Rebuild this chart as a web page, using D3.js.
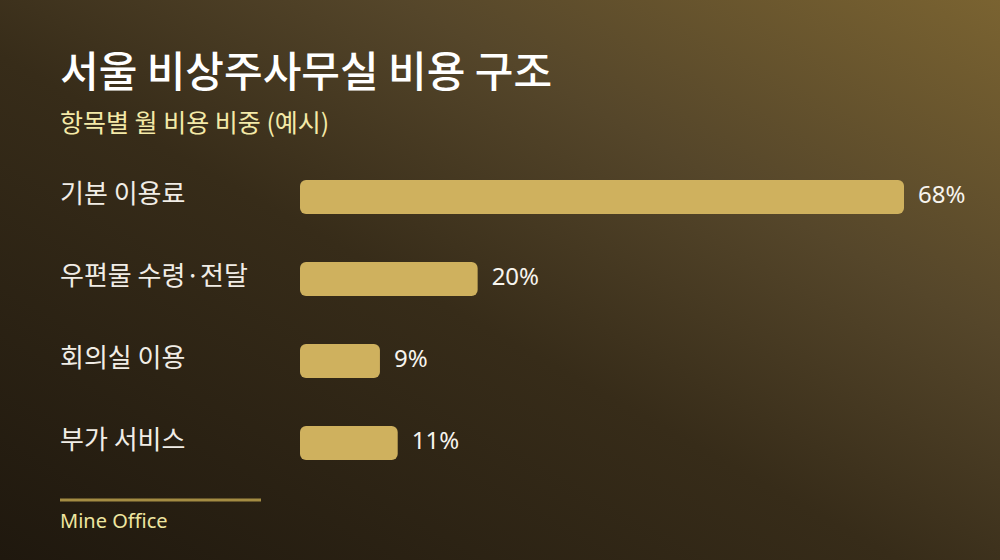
<!DOCTYPE html>
<html>

<head>
    <meta charset="utf-8" />
    <title>서울 비상주사무실 비용 구조</title>
    <script src="https://d3js.org/d3.v7.min.js"></script>
    <style>
        html, body {
            margin: 0;
            padding: 0;
            background: #2a2114;
        }
        svg text {
            font-family: "Noto Sans CJK KR", "Noto Sans", sans-serif;
        }
        svg text.latin {
            font-family: "Noto Sans", "Noto Sans CJK KR", sans-serif;
        }
    </style>
</head>

<body>
    <div id="chart"></div>
</body>

</html>
<script>
    // data
    const categories = ["기본 이용료", "우편물 수령·전달", "회의실 이용", "부가 서비스"];
    const shares = [68, 20, 9, 11];
    const valueLabels = ["68%", "20%", "9%", "11%"];

    const titleText = "서울 비상주사무실 비용 구조";
    const subtitleText = "항목별 월 비용 비중 (예시)";
    const footerText = "Mine Office";

    const width = 1000, height = 560;

    const svg = d3.select("#chart")
        .append("svg")
        .attr("width", width)
        .attr("height", height);

    // background gradient, dark bottom-left to warm gold top-right
    const defs = svg.append("defs");
    const bg = defs.append("linearGradient")
        .attr("id", "bg")
        .attr("x1", "0").attr("y1", "1")
        .attr("x2", "1").attr("y2", "0");
    bg.append("stop").attr("offset", "0").attr("stop-color", "#1f180e");
    bg.append("stop").attr("offset", "0.45").attr("stop-color", "#372c19");
    bg.append("stop").attr("offset", "0.7").attr("stop-color", "#55462a");
    bg.append("stop").attr("offset", "1").attr("stop-color", "#7a6331");

    svg.append("rect")
        .attr("width", width)
        .attr("height", height)
        .attr("fill", "url(#bg)");

    // title + subtitle
    svg.append("text")
        .attr("x", 60).attr("y", 87)
        .attr("fill", "#ffffff")
        .attr("font-size", 42)
        .attr("font-weight", 500)
        .text(titleText);

    svg.append("text")
        .attr("x", 60).attr("y", 132)
        .attr("fill", "#f4eaa8")
        .attr("font-size", 25)
        .text(subtitleText);

    // scales
    const y = d3.scaleBand()
        .domain(categories)
        .range([180, 460])
        .paddingInner(48 / 82)
        .paddingOuter(0);

    const x = d3.scaleLinear()
        .domain([0, d3.max(shares)])
        .range([300, 904]);

    const rows = categories.map((c, i) => ({ cat: c, v: shares[i], label: valueLabels[i] }));

    // category labels
    svg.append("g")
        .selectAll("text")
        .data(rows)
        .join("text")
        .attr("x", 60)
        .attr("y", d => y(d.cat) + y.bandwidth() / 2 - 3)
        .attr("dy", "0.35em")
        .attr("fill", "#f1ede6")
        .attr("font-size", 26)
        .text(d => d.cat);

    // bars
    svg.append("g")
        .selectAll("rect")
        .data(rows)
        .join("rect")
        .attr("x", x(0))
        .attr("y", d => y(d.cat))
        .attr("width", d => x(d.v) - x(0))
        .attr("height", y.bandwidth())
        .attr("rx", 6)
        .attr("fill", "#cfb15e");

    // value labels
    svg.append("g")
        .selectAll("text")
        .data(rows)
        .join("text")
        .attr("class", "latin")
        .attr("x", d => x(d.v) + 14)
        .attr("y", d => y(d.cat) + y.bandwidth() / 2 + 6)
        .attr("fill", "#f7f4ee")
        .attr("font-size", 24)
        .text(d => d.label);

    // footer
    svg.append("line")
        .attr("x1", 60).attr("x2", 261)
        .attr("y1", 500).attr("y2", 500)
        .attr("stroke", "#a48c43")
        .attr("stroke-width", 3);

    svg.append("text")
        .attr("class", "latin")
        .attr("x", 60).attr("y", 528)
        .attr("fill", "#efe6a0")
        .attr("font-size", 20)
        .text(footerText);
</script>
